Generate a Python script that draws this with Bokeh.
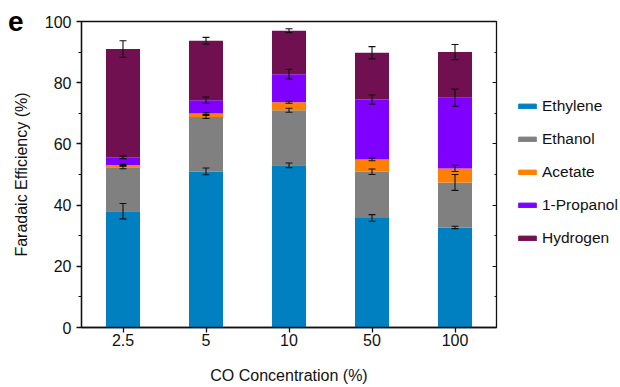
from bokeh.plotting import figure
from bokeh.layouts import row
from bokeh.models import (ColumnDataSource, Whisker, TeeHead, Legend, LegendItem,
                          LinearAxis, FactorRange, FixedTicker)
from bokeh.embed import file_html
from bokeh.resources import INLINE

categories = ["2.5", "5", "10", "50", "100"]
ethylene = [38.0, 51.0, 53.0, 35.8, 32.7]
ethanol = [14.4, 17.8, 18.0, 15.1, 14.7]
acetate = [0.6, 1.1, 2.6, 4.0, 4.6]
propanol = [2.6, 4.4, 9.2, 19.6, 23.1]
hydrogen = [35.4, 19.4, 14.2, 15.3, 14.9]
err_ethylene = [2.5, 1.1, 0.75, 1.1, 0.4]
err_ethanol = [0.5, 0.5, 0.65, 0.9, 2.6]
err_acetate = [0.3, 0.3, 0.3, 0.4, 1.0]
err_propanol = [0.4, 1.0, 1.6, 1.5, 2.8]
err_hydrogen = [2.7, 1.1, 0.65, 2.0, 2.5]
series_names = ["Ethylene", "Ethanol", "Acetate", "1-Propanol", "Hydrogen"]
colors = ["#0080C0", "#808080", "#FF8000", "#8000FF", "#701050"]
y_ticks = [0, 20, 40, 60, 80, 100]
y_minor = [10, 30, 50, 70, 90]
panel_letter = "e"

FONT = "Liberation Sans"
INK = "#111111"

data = dict(x=categories, Ethylene=ethylene, Ethanol=ethanol, Acetate=acetate,
            Propanol=propanol, Hydrogen=hydrogen)
source = ColumnDataSource(data)

p = figure(width=500, height=387, x_range=FactorRange(*categories, range_padding=0),
           y_range=(0, 100), output_backend="svg", toolbar_location=None,
           min_border_left=81, min_border_right=4, min_border_top=21,
           min_border_bottom=60)
p.outline_line_color = INK
p.outline_line_width = 1.3
p.grid.visible = False

keys = ["Ethylene", "Ethanol", "Acetate", "Propanol", "Hydrogen"]
rends = p.vbar_stack(keys, x="x", width=0.41, source=source, color=colors, line_color=None)

# error bars at cumulative tops
vals = [ethylene, ethanol, acetate, propanol, hydrogen]
errs = [err_ethylene, err_ethanol, err_acetate, err_propanol, err_hydrogen]
cum = [0.0] * len(categories)
for v, e in zip(vals, errs):
    cum = [c + vv for c, vv in zip(cum, v)]
    es = ColumnDataSource(dict(x=categories, upper=[c + ee for c, ee in zip(cum, e)],
                               lower=[c - ee for c, ee in zip(cum, e)]))
    w = Whisker(base="x", upper="upper", lower="lower", source=es, line_color=INK,
                line_width=1.1, level="overlay",
                upper_head=TeeHead(size=7, line_color=INK, line_width=1.1),
                lower_head=TeeHead(size=7, line_color=INK, line_width=1.1))
    p.add_layout(w)

# axes
yax = p.yaxis[0]
yax.ticker = FixedTicker(ticks=y_ticks, minor_ticks=y_minor)
yax.axis_label = "Faradaic Efficiency (%)"
for ax in [yax, p.xaxis[0]]:
    ax.axis_label_text_font = FONT
    ax.axis_label_text_font_size = "16px"
    ax.axis_label_text_font_style = "normal"
    ax.major_label_text_font = FONT
    ax.major_label_text_font_size = "16px"
    ax.major_label_text_color = INK
    ax.axis_label_text_color = INK
    ax.axis_line_color = INK
    ax.axis_line_width = 1.3
    ax.major_tick_line_color = INK
    ax.major_tick_line_width = 1.3
    ax.major_tick_in = 0
    ax.major_tick_out = 5
yax.minor_tick_in = 0
yax.minor_tick_out = 3
yax.minor_tick_line_color = INK
yax.minor_tick_line_width = 1.2
yax.major_label_standoff = 5
yax.axis_label_standoff = 12
xax = p.xaxis[0]
xax.axis_label = "CO Concentration (%)"
xax.major_label_standoff = 1
xax.axis_label_standoff = 18

rax = LinearAxis(ticker=FixedTicker(ticks=y_ticks, minor_ticks=y_minor))
rax.axis_line_color = None
rax.major_label_text_font_size = "0px"
rax.major_label_standoff = 0
rax.major_tick_in = 4
rax.major_tick_out = 0
rax.minor_tick_in = 2
rax.minor_tick_out = 0
rax.major_tick_line_color = INK
rax.minor_tick_line_color = INK
p.add_layout(rax, "right")

# panel letter as an outer left axis label
eax = LinearAxis(ticker=FixedTicker(ticks=[100], minor_ticks=[]),
                 major_label_overrides={100: panel_letter})
eax.axis_line_color = None
eax.major_tick_line_color = None
eax.minor_tick_line_color = None
eax.major_tick_out = 0
eax.major_tick_in = 0
eax.major_label_standoff = -14
eax.major_label_text_font = FONT
eax.major_label_text_font_size = "28px"
eax.major_label_text_font_style = "bold"
eax.major_label_text_color = "black"
p.add_layout(eax, "left")

# legend figure
q = figure(width=120, height=387, x_range=(0, 1), y_range=(0, 1),
           output_backend="svg", toolbar_location=None, min_border=0,
           x_axis_location=None, y_axis_location=None)
q.grid.visible = False
q.outline_line_color = None
qr = [q.vbar(x=[5], top=[1], width=0.1, color=c) for c in colors]
items = [LegendItem(label=n, renderers=[r]) for n, r in zip(series_names, qr)]
legend = Legend(items=items, location=(16, 79), padding=0, margin=0,
                border_line_color=None, background_fill_alpha=0,
                glyph_width=22, glyph_height=6, label_standoff=4,
                label_text_font=FONT, label_text_font_size="15.5px",
                label_height=20, spacing=13, label_text_color=INK)
q.add_layout(legend)

layout = row(p, q, spacing=0)
open("out.html", "w").write(file_html(layout, INLINE))
